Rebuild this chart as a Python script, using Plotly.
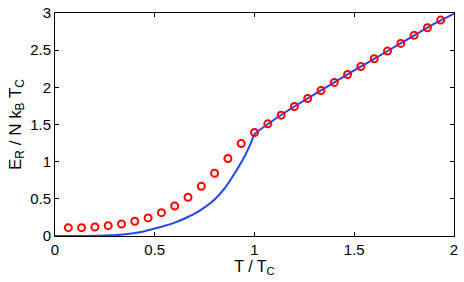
import plotly.graph_objects as go

# Blue curve (theory)
line_t = [0.0, 0.1, 0.2, 0.25, 0.3, 0.35, 0.4, 0.45, 0.5, 0.55, 0.6, 0.65, 0.7, 0.75,
          0.8, 0.85, 0.9, 0.95, 0.98, 1.0,
          1.1, 1.2, 1.3, 1.4, 1.5, 1.6, 1.7, 1.8, 1.9, 2.0]
line_e = [0.0, 0.0003, 0.003, 0.007, 0.013, 0.024, 0.04, 0.065, 0.10, 0.137, 0.18, 0.235,
          0.30, 0.385, 0.49, 0.64, 0.84, 1.07, 1.24, 1.37,
          1.567, 1.742, 1.904, 2.066, 2.227, 2.384, 2.54, 2.699, 2.853, 2.99]

# Red circles (simulation)
pts_t = [k / 15 for k in range(1, 30)]
pts_e = [0.112, 0.112, 0.121, 0.139, 0.162, 0.198, 0.243, 0.314, 0.404, 0.521,
         0.669, 0.844, 1.042, 1.244, 1.392, 1.509, 1.626, 1.742, 1.85, 1.958,
         2.066, 2.173, 2.281, 2.384, 2.488, 2.591, 2.699, 2.802, 2.905]

x_ticks = [0, 0.5, 1, 1.5, 2]
y_ticks = [0, 0.5, 1, 1.5, 2, 2.5, 3]

FONT = "Liberation Sans, Arial, sans-serif"

fig = go.Figure()
fig.add_trace(go.Scatter(x=line_t, y=line_e, mode="lines",
                         line=dict(color="#2346f0", width=2, shape="spline", smoothing=0.3),
                         showlegend=False, hoverinfo="skip"))
fig.add_trace(go.Scatter(x=pts_t, y=pts_e, mode="markers",
                         marker=dict(symbol="circle-open", size=7, color="#ff0000",
                                     line=dict(width=2, color="#ff0000")),
                         showlegend=False))

axis_common = dict(showline=True, linecolor="black", linewidth=1, mirror="ticks",
                   ticks="inside", ticklen=4, tickcolor="black", showgrid=False, zeroline=False,
                   automargin=False,
                   tickfont=dict(family=FONT, size=15, color="black"))

fig.update_xaxes(range=[0, 2], tickvals=x_ticks, ticktext=[str(v) for v in x_ticks],
                 title=dict(text="T / T<sub>C</sub>", standoff=1,
                            font=dict(family=FONT, size=16, color="black")),
                 **axis_common)
fig.update_yaxes(range=[0, 3], tickvals=y_ticks, ticktext=[str(v) for v in y_ticks],
                 title=dict(text="E<sub>R</sub> / N k<sub>B</sub> T<sub>C</sub>", standoff=4,
                            font=dict(family=FONT, size=17, color="black")),
                 **axis_common)

fig.update_layout(width=464, height=282, margin=dict(l=55, r=10, t=13, b=46, autoexpand=False),
                  plot_bgcolor="white", paper_bgcolor="white")

fig.write_html("out.html", config={"displayModeBar": False},
               post_script="document.body.style.margin='0';document.body.style.overflow='hidden';")
